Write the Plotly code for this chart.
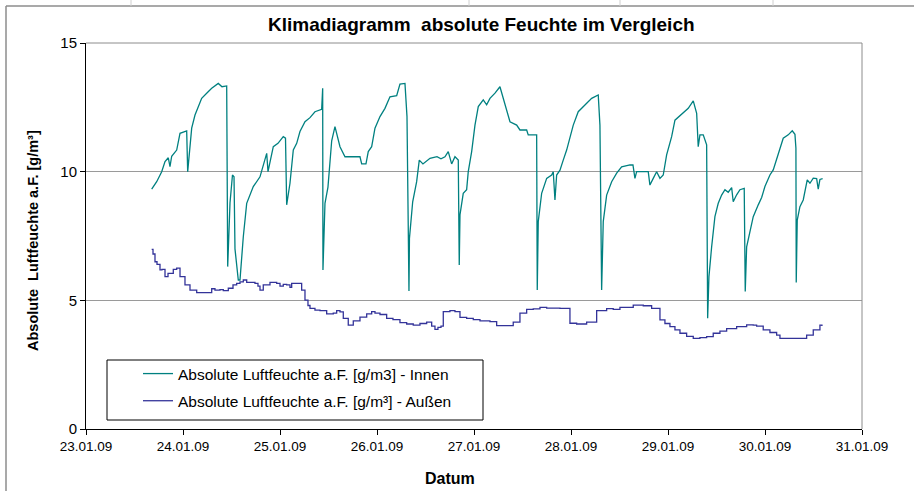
import plotly.graph_objects as go
import pandas as pd

# ---------------- data ----------------
start = pd.Timestamp("2009-01-23 00:00")

innen_hours = [16.25, 17.49, 18.73, 19.55, 20.36, 20.78, 21.20, 22.44, 23.26, 24.49,
               24.91, 25.16, 25.73, 26.15, 26.97, 28.62, 29.86, 31.10, 32.73, 33.65,
               34.81, 35.06, 35.63, 36.24, 36.62, 36.86, 37.68, 38.10, 38.92, 39.76,
               41.39, 43.05, 44.71, 45.03, 46.34, 47.50, 48.81, 49.36, 49.65, 50.47,
               51.29, 52.13, 52.94, 54.18, 55.42, 56.65, 58.31, 58.56, 58.63, 59.13,
               59.87, 60.79, 61.60, 62.34, 62.84, 64.08, 67.79, 68.21, 69.27, 69.84,
               70.68, 71.50, 72.74, 73.97, 75.21, 76.87, 77.68, 78.92, 79.42, 79.91,
               80.03, 80.83, 81.81, 82.46, 83.37, 85.11, 86.84, 87.83, 88.82, 89.63,
               90.47, 91.29, 92.11, 92.35, 92.53, 93.34, 94.18, 94.58, 95.42, 96.24,
               97.06, 98.29, 99.13, 99.95, 101.19, 102.42, 103.24, 104.08, 104.90, 106.56,
               107.37, 109.03, 109.42, 111.50, 111.65, 111.90, 112.74, 113.98, 115.21, 115.61,
               116.03, 116.45, 117.27, 118.08, 118.92, 120.56, 121.79, 123.45, 125.11, 126.74,
               127.16, 127.58, 127.98, 128.82, 130.06, 131.30, 132.53, 134.59, 135.33, 135.82,
               136.24, 139.11, 139.53, 140.35, 141.19, 142.01, 142.82, 143.66, 144.90, 145.72,
               147.77, 149.01, 150.25, 151.09, 151.48, 151.90, 152.72, 153.56, 153.81, 154.13,
               154.80, 155.19, 155.61, 156.43, 157.27, 158.09, 158.90, 159.75, 160.14, 160.98,
               161.80, 162.86, 163.11, 163.46, 164.27, 165.09, 166.33, 167.17, 167.98, 169.22,
               170.04, 171.28, 172.51, 173.75, 174.74, 175.41, 175.65, 175.73, 175.98, 176.64,
               177.46, 178.45, 179.12, 179.94, 180.78, 181.17, 181.59, 182.26]
innen_values = [9.32, 9.61, 10.0, 10.39, 10.54, 10.2, 10.6, 10.84, 11.49, 11.58,
                11.58, 10.0, 10.97, 11.69, 12.2, 12.85, 13.05, 13.24, 13.43, 13.3,
                13.33, 6.31, 8.78, 9.87, 9.8, 7.0, 5.79, 5.79, 7.47, 8.77,
                9.42, 9.8, 10.71, 10.0, 10.97, 11.1, 11.36, 11.3, 8.71, 9.55,
                10.84, 11.1, 11.56, 11.94, 12.1, 12.33, 12.42, 13.24, 6.18, 8.77,
                9.4, 11.2, 11.75, 11.3, 10.97, 10.58, 10.58, 10.3, 10.3, 10.78,
                10.97, 11.69, 12.14, 12.46, 12.91, 12.95, 13.4, 13.43, 12.14, 5.36,
                7.41, 8.83, 9.61, 10.45, 10.3, 10.52, 10.58, 10.5, 10.58, 10.78,
                10.3, 10.58, 10.45, 6.37, 8.32, 9.16, 9.3, 10.0, 10.78, 11.81,
                12.53, 12.79, 12.6, 12.85, 13.05, 13.3, 12.85, 12.4, 11.94, 11.81,
                11.62, 11.62, 11.43, 11.43, 5.40, 8.06, 9.16, 9.74, 9.87, 10.0,
                8.9, 9.87, 10.06, 10.45, 10.84, 11.81, 12.33, 12.59, 12.85, 12.98,
                11.81, 5.40, 8.06, 9.09, 9.61, 9.94, 10.19, 10.26, 10.26, 9.74,
                10.0, 10.0, 9.48, 9.74, 10.0, 9.74, 9.87, 10.65, 11.36, 12.0,
                12.27, 12.46, 12.75, 12.27, 10.97, 11.43, 11.43, 11.04, 4.30, 5.92,
                7.08, 7.73, 8.25, 8.77, 9.09, 9.3, 9.2, 9.38, 8.83, 9.1,
                9.3, 9.35, 5.34, 7.08, 7.73, 8.25, 8.71, 9.0, 9.42, 9.87,
                10.07, 10.71, 11.3, 11.43, 11.59, 11.45, 10.91, 5.69, 8.12, 8.64,
                8.9, 9.68, 9.55, 9.75, 9.73, 9.32, 9.7, 9.73]

aussen_hours = [16.25, 16.58, 17.07, 17.57, 18.31, 18.80, 19.55, 20.29, 21.03, 21.60,
                22.44, 23.26, 24.49, 25.73, 27.39, 30.26, 31.10, 31.91, 33.15, 33.97,
                35.21, 36.37, 37.28, 38.10, 38.92, 39.76, 40.57, 41.81, 42.55, 43.05,
                43.86, 44.78, 45.52, 47.18, 48.00, 48.81, 49.65, 50.47, 50.89, 52.13,
                53.36, 54.18, 54.92, 55.42, 56.65, 57.89, 59.55, 60.37, 61.18, 62.02,
                62.84, 63.66, 64.89, 66.13, 67.79, 69.45, 70.68, 71.50, 72.74, 74.39,
                75.95, 77.68, 79.34, 80.97, 82.63, 84.29, 85.53, 86.34, 87.08, 87.83,
                88.40, 90.05, 91.29, 92.53, 94.18, 95.82, 97.48, 99.95, 101.61, 104.90,
                105.71, 107.37, 109.03, 110.66, 112.32, 113.98, 117.27, 118.92, 119.74, 121.40,
                123.87, 125.51, 126.35, 128.82, 130.45, 132.11, 135.40, 137.88, 139.95, 142.01,
                143.24, 144.48, 145.72, 146.96, 148.61, 150.25, 151.90, 153.56, 155.19, 156.85,
                158.51, 160.98, 163.46, 165.09, 165.93, 167.56, 169.22, 170.88, 171.70, 174.17,
                176.64, 178.30, 179.94, 181.59, 182.09]
aussen_values = [6.98, 6.8, 6.5, 6.4, 6.18, 6.2, 5.92, 6.05, 6.05, 6.2,
                 6.25, 5.92, 5.6, 5.4, 5.3, 5.3, 5.45, 5.4, 5.42, 5.38,
                 5.47, 5.6, 5.66, 5.72, 5.79, 5.7, 5.7, 5.66, 5.55, 5.4,
                 5.6, 5.6, 5.7, 5.66, 5.55, 5.62, 5.6, 5.5, 5.66, 5.66,
                 5.4, 5.01, 4.8, 4.69, 4.62, 4.6, 4.47, 4.47, 4.5, 4.6,
                 4.55, 4.3, 4.04, 4.2, 4.35, 4.47, 4.56, 4.5, 4.45, 4.3,
                 4.25, 4.13, 4.08, 4.04, 4.1, 4.15, 4.0, 3.87, 3.95, 4.0,
                 4.56, 4.6, 4.56, 4.34, 4.3, 4.25, 4.2, 4.17, 4.02, 4.02,
                 4.15, 4.5, 4.65, 4.67, 4.73, 4.7, 4.69, 4.69, 4.11, 4.08,
                 4.15, 4.15, 4.6, 4.68, 4.65, 4.73, 4.81, 4.79, 4.69, 4.24,
                 4.1, 3.98, 3.85, 3.72, 3.6, 3.52, 3.55, 3.59, 3.72, 3.8,
                 3.9, 3.98, 4.05, 4.04, 4.0, 3.85, 3.75, 3.65, 3.52, 3.52,
                 3.52, 3.65, 3.85, 4.04, 4.0]

x_tick_dates = ["2009-01-23", "2009-01-24", "2009-01-25", "2009-01-26", "2009-01-27",
                "2009-01-28", "2009-01-29", "2009-01-30", "2009-01-31"]
x_tick_labels = ["23.01.09", "24.01.09", "25.01.09", "26.01.09", "27.01.09",
                 "28.01.09", "29.01.09", "30.01.09", "31.01.09"]
y_ticks = [0, 5, 10, 15]
y_tick_labels = ["0", "5", "10", "15"]

name_innen = "Absolute Luftfeuchte a.F. [g/m3] - Innen"
name_aussen = "Absolute Luftfeuchte a.F. [g/m³] - Außen"

innen_t = start + pd.to_timedelta(innen_hours, unit="h")
aussen_t = start + pd.to_timedelta(aussen_hours, unit="h")

# ---------------- layout geometry ----------------
W, H = 914, 491
L, R, T, B = 86, 862, 43, 429
FONT = "Liberation Sans, Arial, sans-serif"


def px(xp):
    return (xp - L) / (R - L)


def py(yp):
    return (B - yp) / (B - T)


fig = go.Figure()
fig.add_trace(go.Scatter(x=innen_t, y=innen_values, mode="lines", name=name_innen,
                         legendgroup="a",
                         line=dict(color="#008080", width=1.3)))
fig.add_trace(go.Scatter(x=aussen_t, y=aussen_values, mode="lines", name=name_aussen,
                         legendgroup="b",
                         line=dict(color="#333399", width=1.3, shape="hv")))

shapes = [
    # plot area top and right border (gray)
    dict(type="line", xref="paper", yref="paper", x0=0, x1=1, y0=1, y1=1,
         line=dict(color="#8c8c8c", width=1)),
    dict(type="line", xref="paper", yref="paper", x0=1, x1=1, y0=0, y1=1,
         line=dict(color="#8c8c8c", width=1)),
    # legend box
    dict(type="rect", xref="paper", yref="paper", x0=px(107), x1=px(483),
         y0=py(420), y1=py(360), line=dict(color="black", width=1),
         fillcolor="white", layer="below"),
    # outer chart frame (top + left)
    dict(type="line", xref="paper", yref="paper", x0=px(6), x1=px(914), y0=py(6), y1=py(6),
         line=dict(color="#8c8c8c", width=1.5)),
    dict(type="line", xref="paper", yref="paper", x0=px(6), x1=px(6), y0=py(6), y1=py(491),
         line=dict(color="#8c8c8c", width=1.5)),
]
# spreadsheet cell lines visible above the chart
for cx in [131, 469, 620, 773]:
    shapes.append(dict(type="line", xref="paper", yref="paper", x0=px(cx), x1=px(cx),
                       y0=py(0), y1=py(6), line=dict(color="#d0d0d0", width=1)))

annotations = [
    dict(text="<b>Klimadiagramm  absolute Feuchte im Vergleich</b>", xref="paper", yref="paper",
         x=px(481), y=py(24), xanchor="center", yanchor="middle", showarrow=False,
         font=dict(family=FONT, size=19, color="black")),
    dict(text="<b>Datum</b>", xref="paper", yref="paper",
         x=px(450), y=py(478), xanchor="center", yanchor="middle", showarrow=False,
         font=dict(family=FONT, size=16, color="black")),
    dict(text="<b>Absolute  Luftfeuchte a.F. [g/m³]</b>", xref="paper", yref="paper",
         x=px(33), y=py(241), xanchor="center", yanchor="middle", showarrow=False,
         textangle=-90, font=dict(family=FONT, size=14.5, color="black")),
]

fig.update_layout(
    width=W, height=H,
    margin=dict(l=L, r=W - R, t=T, b=H - B, pad=0),
    paper_bgcolor="white", plot_bgcolor="white",
    font=dict(family=FONT, color="black"),
    showlegend=True,
    legend=dict(x=px(138), y=py(357), xanchor="left", yanchor="top",
                bgcolor="rgba(0,0,0,0)", borderwidth=0,
                font=dict(family=FONT, size=15.5, color="black"),
                tracegroupgap=4, traceorder="grouped"),
    shapes=shapes,
    annotations=annotations,
    xaxis=dict(
        type="date",
        range=[x_tick_dates[0], x_tick_dates[-1]],
        tickmode="array", tickvals=x_tick_dates, ticktext=x_tick_labels,
        showgrid=False, zeroline=False,
        showline=True, linecolor="black", linewidth=1,
        ticks="outside", ticklen=5, tickcolor="black",
        tickfont=dict(family=FONT, size=13.5, color="black"),
    ),
    yaxis=dict(
        range=[0, 15],
        tickmode="array", tickvals=y_ticks, ticktext=y_tick_labels,
        showgrid=True, gridcolor="#9a9a9a", gridwidth=1,
        zeroline=False,
        showline=True, linecolor="black", linewidth=1,
        ticks="outside", ticklen=5, tickcolor="black",
        tickfont=dict(family=FONT, size=15, color="black"),
    ),
)

fig.write_html("out.html", config={"displayModeBar": False},
               post_script="document.body.style.margin='0';document.body.style.overflow='hidden';")
